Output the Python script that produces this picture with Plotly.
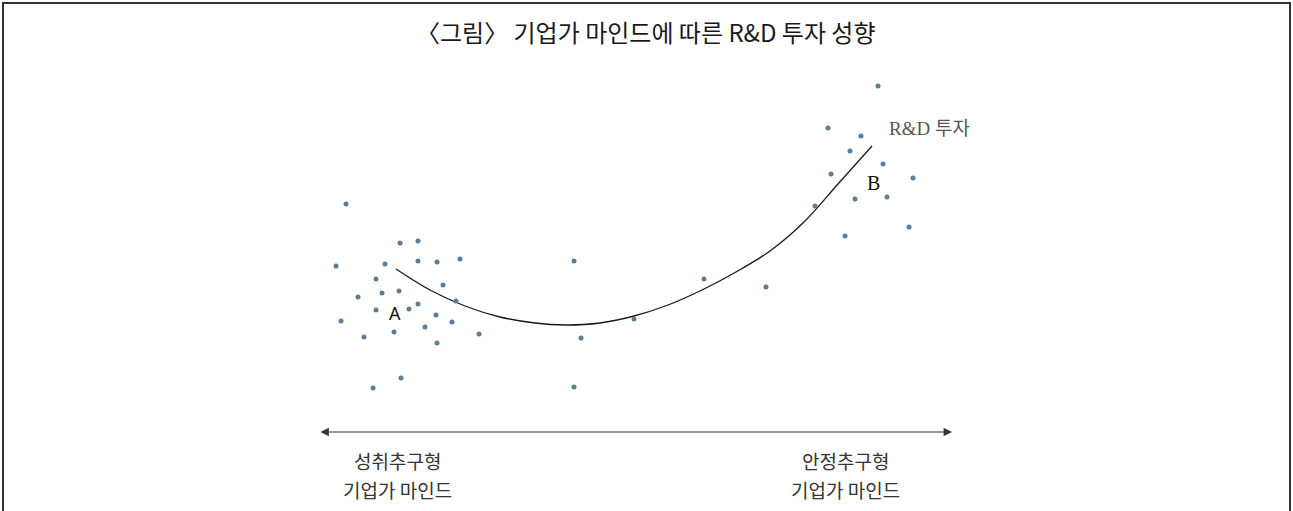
import plotly.graph_objects as go

# Canvas coordinate system
CANVAS_W = 1293
CANVAS_H = 511

# Scatter points (firms)
points_x = [346, 400, 418, 336, 385, 418, 437, 460, 376, 443, 358, 382, 399, 456, 376,
            409, 418, 436, 341, 425, 452, 364, 394, 437, 479, 401, 373,
            574, 581, 574, 634, 704, 766,
            878, 828, 861, 850, 883, 831, 913, 887, 855, 815, 909, 845]
points_y = [204, 243, 241, 266, 264, 261, 262, 259, 279, 285, 297, 293, 291, 301, 310,
            309, 304, 315, 321, 327, 322, 337, 332, 343, 334, 378, 388,
            261, 338, 387, 319, 279, 287,
            86, 128, 136, 151, 164, 174, 178, 197, 199, 206, 227, 236]

# R&D investment curve
curve_x = [396, 430, 465, 500, 535, 565, 600, 634, 668, 702, 736, 770, 804, 838, 872]
curve_y = [269, 290, 306, 317, 323, 325, 323, 316, 305, 290, 272, 251, 222, 184, 146]

title_text = "〈그림〉 기업가 마인드에 따른 R&D 투자 성향"
left_label_1 = "성취추구형"
left_label_2 = "기업가 마인드"
right_label_1 = "안정추구형"
right_label_2 = "기업가 마인드"
curve_label = "R&D 투자"
label_a = "A"
label_b = "B"

arrow_left_x = 319
arrow_right_x = 952
arrow_y = 432

fig = go.Figure()

fig.add_trace(go.Scatter(
    x=curve_x, y=curve_y, mode="lines",
    line=dict(color="#1a1a1a", width=1.3, shape="spline", smoothing=1.0),
    hoverinfo="skip", showlegend=False))

fig.add_trace(go.Scatter(
    x=points_x, y=points_y, mode="markers",
    marker=dict(color="#5b7d98", size=5, line=dict(width=0)),
    showlegend=False))

label_font = dict(family="Noto Sans CJK KR", size=19, color="#333333")

annotations = [
    dict(x=646, y=31, text=title_text, showarrow=False,
         font=dict(family="Noto Sans CJK KR", size=24, color="#1a1a1a")),
    dict(x=395, y=313, text=label_a, showarrow=False,
         font=dict(family="Noto Sans", size=18, color="#111111")),
    dict(x=873, y=183, text=label_b, showarrow=False,
         font=dict(family="Liberation Serif", size=20, color="#111111")),
    dict(x=887, y=128, text=curve_label, showarrow=False, xanchor="left",
         font=dict(family="Liberation Serif, Noto Sans CJK KR", size=19, color="#555555")),
    dict(x=397, y=460, text=left_label_1, showarrow=False, font=label_font, borderpad=0),
    dict(x=397, y=489, text=left_label_2, showarrow=False, font=label_font, borderpad=0),
    dict(x=845, y=460, text=right_label_1, showarrow=False, font=label_font, borderpad=0),
    dict(x=845, y=489, text=right_label_2, showarrow=False, font=label_font, borderpad=0),
    dict(x=arrow_right_x, y=arrow_y, ax=arrow_left_x, ay=arrow_y,
         xref="x", yref="y", axref="x", ayref="y", text="",
         showarrow=True, arrowhead=2, startarrowhead=2, arrowside="end+start",
         arrowsize=1.4, startarrowsize=1.4, arrowwidth=1.2, arrowcolor="#333333"),
]

fig.update_layout(
    width=CANVAS_W, height=CANVAS_H,
    margin=dict(l=0, r=0, t=0, b=0),
    paper_bgcolor="white", plot_bgcolor="white",
    xaxis=dict(range=[0, CANVAS_W], visible=False, fixedrange=True),
    yaxis=dict(range=[CANVAS_H, 0], visible=False, fixedrange=True),
    annotations=annotations,
    shapes=[dict(type="rect", xref="x", yref="y", x0=3, x1=1290, y0=3, y1=530,
                 line=dict(color="#333333", width=2))],
)

fig.write_html("out.html", config={"displayModeBar": False},
               post_script="document.body.style.margin='0';document.body.style.overflow='hidden';")
